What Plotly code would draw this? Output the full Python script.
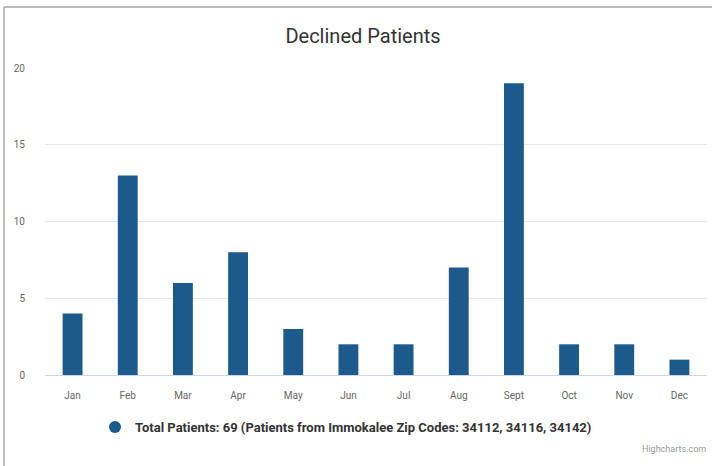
import plotly.graph_objects as go

# Monthly declined-patient counts
months = ["Jan", "Feb", "Mar", "Apr", "May", "Jun", "Jul", "Aug", "Sept", "Oct", "Nov", "Dec"]
declined = [4, 13, 6, 8, 3, 2, 2, 7, 19, 2, 2, 1]
y_ticks = [0, 5, 10, 15, 20]

total = sum(declined)
series_name = f"Total Patients: {total} (Patients from Immokalee Zip Codes: 34112, 34116, 34142)"

BAR_COLOR = "#1b5a8b"
W, H = 712, 466
ML, MR, MT, MB = 45, 5, 68, 91

fig = go.Figure()
fig.add_trace(go.Bar(
    x=months, y=declined, marker=dict(color=BAR_COLOR, line=dict(width=0)),
    showlegend=False, name=series_name,
))
# legend entry drawn with a round symbol
fig.add_trace(go.Scatter(
    x=[None], y=[None], mode="markers", name=series_name,
    marker=dict(symbol="circle", size=12, color=BAR_COLOR),
))

pw = W - ML - MR
ph = H - MT - MB

def px_x(p):
    return (p - ML) / pw

def px_y(p):
    return (H - MB - p) / ph

fig.update_layout(
    width=W, height=H,
    margin=dict(l=ML, r=MR, t=MT, b=MB, autoexpand=False),
    paper_bgcolor="white", plot_bgcolor="white",
    font=dict(family="Roboto, Lato, sans-serif", color="#666666"),
    title=dict(text="Declined Patients", x=363 / W, xref="container", xanchor="center",
               y=1 - 36 / H, yanchor="middle",
               font=dict(size=20, color="#333333")),
    bargap=0.64,
    xaxis=dict(
        type="category", showgrid=False, showline=True, linecolor="#ccd6eb", linewidth=1,
        ticks="", tickfont=dict(size=10, color="#666666"), ticklabelstandoff=11,
        fixedrange=True,
    ),
    yaxis=dict(
        range=[0, 20], tickvals=y_ticks, showgrid=True, gridcolor="#e6e6e6", gridwidth=1,
        zeroline=False, showline=False, ticks="",
        tickfont=dict(size=10, color="#666666"), ticklabelstandoff=19,
    ),
    legend=dict(
        orientation="h", x=px_x(95), xanchor="left", y=px_y(427), yanchor="middle",
        font=dict(size=13, color="#333333", family="Roboto, Lato, sans-serif", weight="bold"),
        itemsizing="constant", bgcolor="rgba(0,0,0,0)",
    ),
    shapes=[
        # thin frame along the top and left edges
        dict(type="line", xref="paper", yref="paper", x0=px_x(4), x1=px_x(W + 5),
             y0=px_y(7), y1=px_y(7), line=dict(color="#bdbdbd", width=2)),
        dict(type="line", xref="paper", yref="paper", x0=px_x(4), x1=px_x(4),
             y0=px_y(7), y1=px_y(H + 5), line=dict(color="#bdbdbd", width=2)),
    ],
    annotations=[
        dict(text="Highcharts.com", xref="paper", yref="paper", x=px_x(708), y=px_y(449),
             xanchor="right", yanchor="middle", showarrow=False,
             font=dict(size=9, color="#999999")),
    ],
)

fig.write_html("out.html")
